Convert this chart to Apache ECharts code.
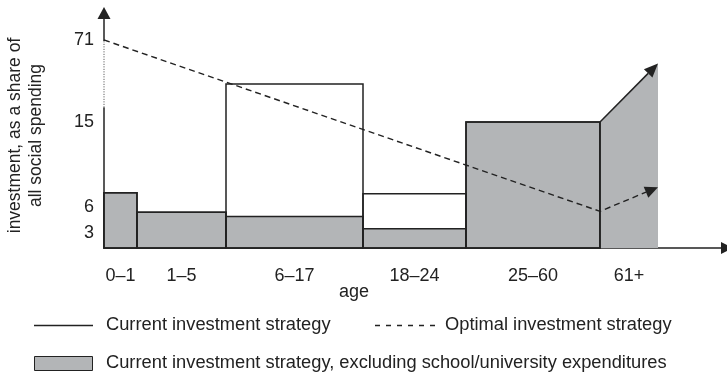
<!DOCTYPE html>
<html><head><meta charset="utf-8">
<script src="https://cdn.jsdelivr.net/npm/echarts@6/dist/echarts.min.js"></script>
<style>html,body{margin:0;padding:0;background:#fff}#c{width:727px;height:374px}</style>
</head><body><div id="c"></div>
<script>
// ---------------- data ----------------
const categories = ['0–1', '1–5', '6–17', '18–24', '25–60', '61+'];
// investment excluding school/university expenditures (value at left / right edge of each age band)
const excludingSchoolStart = [7.5, 5.4, 4.9, 3.5, 15, 15];
const excludingSchoolEnd   = [7.5, 5.4, 4.9, 3.5, 15, 55];
// current investment strategy
const currentStart = [7.5, 5.4, 41, 7.4, 15, 15];
const currentEnd   = [7.5, 5.4, 41, 7.4, 15, 55];
// optimal investment strategy: at start of '0–1', start of '61+', end of '61+'
const optimalValues = [71, 5.5, 8.1];
const yTickLabels = [3, 6, 15, 71];
const seriesNames = ['Current investment strategy', 'Optimal investment strategy',
  'Current investment strategy, excluding school/university expenditures'];
const xAxisTitle = 'age';
const yAxisTitle = 'investment, as a share of\nall social spending';

// ---------------- layout (schematic axis) ----------------
const bandWidths = [33, 89, 137, 103, 134, 58];
const X_MAX = 623;
const yKnotValues = [0, 3, 6, 15, 71];
const yKnotPos = [0, 15, 41, 126, 208];
const Y_MAX = 235;
const yBreak = [25, 71];
const edges = [0];
bandWidths.forEach(w => edges.push(edges[edges.length - 1] + w));
function yPos(v) {
  for (let i = 1; i < yKnotValues.length; i++) {
    if (v <= yKnotValues[i] || i === yKnotValues.length - 1) {
      const a = yKnotValues[i - 1], b = yKnotValues[i];
      return yKnotPos[i - 1] + (v - a) / (b - a) * (yKnotPos[i] - yKnotPos[i - 1]);
    }
  }
}
const INK = '#222222';
const GRAY = '#b3b5b7';
const FONT = '"Liberation Sans", Arial, sans-serif';
const LEGEND_FONT = '18.3px ' + FONT;

function arrowHead(from, tip, L, w) {
  const dx = tip[0] - from[0], dy = tip[1] - from[1];
  const len = Math.sqrt(dx * dx + dy * dy);
  const ux = dx / len, uy = dy / len;
  const bx = tip[0] - ux * L, by = tip[1] - uy * L;
  const nx = -uy, ny = ux;
  return { base: [bx, by], points: [tip, [bx + nx * w, by + ny * w], [bx - nx * w, by - ny * w]] };
}

const chart = echarts.init(document.getElementById('c'), null, { renderer: 'canvas' });

const grayData = categories.map((c, i) => [i, yPos(excludingSchoolStart[i]), yPos(excludingSchoolEnd[i])]);
const currentData = categories.map((c, i) => [i, yPos(currentStart[i]), yPos(currentEnd[i])]);
const optimalData = [[edges[0], yPos(optimalValues[0])], [edges[5], yPos(optimalValues[1])], [edges[6], yPos(optimalValues[2])]];

chart.setOption({
  animation: false,
  backgroundColor: '#fff',
  grid: { left: 104, right: 0, top: 13, bottom: 126, containLabel: false, outerBoundsMode: 'none' },
  xAxis: {
    type: 'value', min: 0, max: X_MAX,
    axisLine: { show: true, symbol: ['none', 'triangle'], symbolSize: [12, 12], lineStyle: { color: INK, width: 1.5 } },
    axisTick: { show: false }, axisLabel: { show: false }, splitLine: { show: false }
  },
  yAxis: {
    type: 'value', min: 0, max: Y_MAX,
    axisLine: { show: true, symbol: ['none', 'triangle'], symbolSize: [13, 12], lineStyle: { color: INK, width: 1.5 } },
    axisTick: { show: false }, splitLine: { show: false },
    axisLabel: {
      customValues: yTickLabels.map(v => yPos(v)),
      formatter: (val) => {
        let best = yTickLabels[0];
        yTickLabels.forEach(t => { if (Math.abs(yPos(t) - val) < Math.abs(yPos(best) - val)) best = t; });
        return String(best);
      },
      color: INK, fontSize: 18, fontFamily: FONT, margin: 10
    },
    name: yAxisTitle, nameLocation: 'middle', nameRotate: 90, nameGap: 57,
    nameTextStyle: { color: INK, fontSize: 17.5, fontFamily: FONT, lineHeight: 21, align: 'center', padding: [0, 10, 0, 0] }
  },
  series: [
    {
      name: seriesNames[2], type: 'custom', z: 2, clip: false, data: grayData,
      renderItem: (params, api) => {
        const i = api.value(0);
        const b0 = api.coord([edges[i], 0]), b1 = api.coord([edges[i + 1], 0]);
        const t0 = api.coord([edges[i], api.value(1)]), t1 = api.coord([edges[i + 1], api.value(2)]);
        const children = [];
        if (api.value(1) === api.value(2)) {
          children.push({ type: 'rect', shape: { x: b0[0], y: t0[1], width: b1[0] - b0[0], height: b0[1] - t0[1] },
            style: { fill: GRAY, stroke: INK, lineWidth: 1.5 } });
        } else {
          children.push({ type: 'polygon', shape: { points: [b0, t0, t1, b1] }, style: { fill: GRAY } });
        }
        children.push({ type: 'text', style: { text: categories[i], x: (b0[0] + b1[0]) / 2, y: b0[1] + 28,
          align: 'center', verticalAlign: 'middle', fill: INK, font: '18px ' + FONT } });
        return { type: 'group', children };
      }
    },
    {
      name: seriesNames[0], type: 'custom', z: 3, clip: false, data: currentData,
      renderItem: (params, api) => {
        const i = api.value(0);
        const b0 = api.coord([edges[i], 0]), b1 = api.coord([edges[i + 1], 0]);
        const t0 = api.coord([edges[i], api.value(1)]), t1 = api.coord([edges[i + 1], api.value(2)]);
        if (api.value(1) === api.value(2)) {
          return { type: 'rect', shape: { x: b0[0], y: t0[1], width: b1[0] - b0[0], height: b0[1] - t0[1] },
            style: { fill: null, stroke: INK, lineWidth: 1.5 } };
        }
        const ah = arrowHead(t0, t1, 14, 6);
        return { type: 'group', children: [
          { type: 'line', shape: { x1: b0[0], y1: b0[1], x2: t0[0], y2: t0[1] }, style: { stroke: INK, lineWidth: 1.5 } },
          { type: 'line', shape: { x1: t0[0], y1: t0[1], x2: ah.base[0], y2: ah.base[1] }, style: { stroke: INK, lineWidth: 1.5 } },
          { type: 'polygon', shape: { points: ah.points }, style: { fill: INK } }
        ] };
      }
    },
    {
      name: seriesNames[1], type: 'custom', z: 4, clip: false, data: [[0]],
      renderItem: (params, api) => {
        const pts = optimalData.map(p => api.coord(p));
        const ah = arrowHead(pts[1], pts[2], 13, 6);
        return { type: 'group', children: [
          { type: 'polyline', shape: { points: [pts[0], pts[1], ah.base] },
            style: { stroke: INK, lineWidth: 1.4, lineDash: [6, 4], fill: null } },
          { type: 'polygon', shape: { points: ah.points }, style: { fill: INK } }
        ] };
      }
    },
    {
      name: 'axis break', type: 'custom', z: 5, clip: false, data: [[0]], silent: true,
      renderItem: (params, api) => {
        const p0 = api.coord([0, yPos(yBreak[0])]), p1 = api.coord([0, yPos(yBreak[1])]);
        return { type: 'group', children: [
          { type: 'line', shape: { x1: p0[0], y1: p0[1], x2: p1[0], y2: p1[1] + 1 }, style: { stroke: '#fff', lineWidth: 3 } },
          { type: 'line', shape: { x1: p0[0], y1: p0[1], x2: p1[0], y2: p1[1] }, style: { stroke: '#444', lineWidth: 1, lineDash: [1, 1.5] } }
        ] };
      }
    }
  ],
  graphic: [
    { type: 'text', left: 339, top: 283, style: { text: xAxisTitle, fill: INK, font: '18px ' + FONT } },
    { type: 'line', shape: { x1: 34, y1: 325.5, x2: 93, y2: 325.5 }, style: { stroke: INK, lineWidth: 1.3 } },
    { type: 'text', x: 106, y: 325, style: { text: seriesNames[0], fill: INK, font: LEGEND_FONT, verticalAlign: 'middle' } },
    { type: 'line', shape: { x1: 375, y1: 325.5, x2: 435, y2: 325.5 }, style: { stroke: INK, lineWidth: 1.3, lineDash: [5, 6] } },
    { type: 'text', x: 445, y: 325, style: { text: seriesNames[1], fill: INK, font: LEGEND_FONT, verticalAlign: 'middle' } },
    { type: 'rect', shape: { x: 34.5, y: 356.5, width: 58, height: 14 }, style: { fill: GRAY, stroke: INK, lineWidth: 1 } },
    { type: 'text', x: 106, y: 363, style: { text: seriesNames[2], fill: INK, font: LEGEND_FONT, verticalAlign: 'middle' } }
  ]
});
</script>
</body></html>
